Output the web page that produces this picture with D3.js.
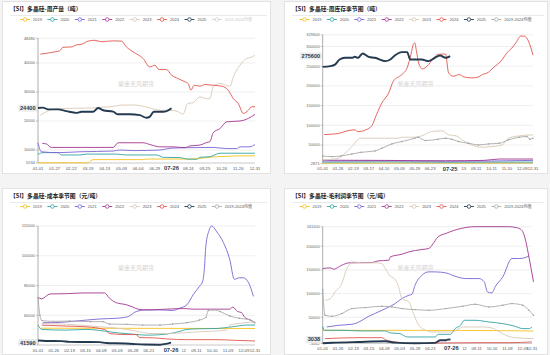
<!DOCTYPE html>
<html><head><meta charset="utf-8">
<script src="https://cdn.jsdelivr.net/npm/d3@7"></script>
<style>body{margin:0;background:#fff;} svg{display:block;font-family:"Liberation Sans",Arial,"Noto Sans CJK SC",sans-serif;}</style>
</head><body><svg id="c" width="550" height="355"></svg>
<script>
// ---------- shared ----------
const seriesNames = ["2019","2020","2021","2022","2023","2024","2025","2019-2024均值"];
const seriesColors = ["#f6c21a","#33a3a3","#7a63d2","#a3378f","#d9c8b5","#e2554d","#243a50","#aaaaaa"];

// ---------- panel 1: weekly production (t) ----------
const prodTicksX = ["01-01","01-27","02-22","03-19","04-13","05-09","06-04","06-29",null,"08-24","09-25","10-26","11-26"];
const prodTicksY = [5534,10000,20000,30000,40000,48480];
const prod2019 = [[0,5600],[3.0,5600],[3.3,6700],[6.3,6700],[6.6,6900],[8.8,6900],[9.7,7100],[10.4,7600],[11.2,7800],[12.2,8000],[13,8000]];
const prod2020 = [[0,8500],[0.3,9100],[1.2,9100],[1.4,8300],[2.5,8300],[2.9,8600],[4.7,8600],[5.3,8300],[7.1,8300],[7.5,7500],[8.5,7400],[8.9,6900],[9.5,6800],[9.7,7500],[10.3,7700],[10.9,8900],[13,8900]];
const prod2021 = [[0,12500],[0.2,9400],[1.2,9100],[2.5,9400],[4.5,9650],[4.9,10000],[5.7,9800],[7.3,10000],[7.9,10600],[8.9,10800],[10.5,10900],[11.3,10500],[11.9,10500],[12.1,11100],[12.7,11100],[13,11900]];
const prod2022 = [[0.26,12300],[0.5,12100],[0.8,10900],[4.5,10900],[4.8,12500],[6.3,12500],[6.7,11900],[7.3,11100],[8.1,11100],[8.8,10800],[9.1,11400],[9.7,11700],[10.1,12600],[10.3,12900],[10.5,16000],[10.9,17400],[11.3,19700],[12.1,20000],[12.6,20900],[13,22300]];
const prod2023 = [[0.14,22000],[0.5,23200],[0.9,24000],[1.3,24300],[3.3,24500],[3.7,24700],[4.3,24900],[5.1,25500],[5.7,25500],[6.1,25300],[6.7,24500],[7.3,23700],[7.9,23700],[8.3,23400],[8.7,22400],[8.96,26000],[9.3,26300],[9.7,28300],[10.1,27700],[10.3,27700],[10.5,32000],[10.9,32900],[11.5,32000],[11.7,35200],[12.1,39200],[12.5,41500],[12.7,41800],[13,42600]];
const prod2024 = [[0.14,43000],[0.6,43400],[1.0,43800],[1.3,44200],[1.5,45400],[2.0,45500],[2.3,46200],[2.6,46400],[3.0,47500],[3.4,47800],[3.8,47300],[4.2,47500],[4.6,47600],[5.0,47500],[5.3,45500],[5.7,43800],[6.3,41500],[6.7,38600],[7.0,39200],[7.26,37700],[7.7,37700],[8.0,35800],[8.4,34600],[8.8,33500],[9.0,32900],[9.16,30600],[9.36,32300],[9.7,32000],[10.0,32550],[10.5,32300],[11.0,32000],[11.4,30600],[11.7,27700],[12.0,26000],[12.3,22600],[12.6,23700],[12.8,24900],[13,24900]];
const prod2025 = [[0,24500],[0.3,24600],[0.6,24000],[1.2,24000],[1.7,23400],[2.3,22800],[2.6,23200],[3.3,23200],[3.6,24500],[3.9,23700],[4.5,23200],[4.8,22300],[5.5,22300],[6.1,22000],[6.5,21100],[6.7,21500],[6.94,23200],[7.5,23200],[7.7,23400],[8.0,24400]];

// ---------- panel 2: weekly inventory (t) ----------
const invTicksX = ["01-01","01-26","02-19","03-17","04-10","05-05","05-29","06-23",null,"08-13","09-11","10-11","11-10","12-09"];
const invTicksY = [2871,50000,100000,150000,200000,250000,300000,329600];
const inv2019 = [[0,2871],[0.5,4200],[6,4500],[10,4300],[13.7,4800]];
const inv2020 = [[0,6500],[4,7200],[8,6300],[13.7,6800]];
const inv2021 = [[0,9500],[4,10000],[8,9000],[11,9500],[13.7,11000]];
const inv2022 = [[0,11500],[4,11000],[8,10000],[10.5,11000],[11.5,14500],[13.7,14500]];
const inv2023 = [[0,12000],[1.0,16250],[1.45,29000],[1.9,46000],[2.45,67250],[4.9,67250],[5.15,69800],[6.0,69800],[6.45,73200],[7.1,84250],[7.8,86000],[8.2,75750],[8.7,73200],[9.1,63000],[9.7,50250],[10.4,44300],[11.0,46000],[11.7,50250],[12.1,67250],[12.8,73200],[13.7,75750]];
const inv2024 = [[0.1,76600],[0.6,77500],[1.1,80000],[1.6,86000],[2.1,88500],[2.3,84000],[2.8,88500],[3.2,98700],[3.5,126700],[3.85,156500],[4.3,182000],[4.6,211700],[5.15,228700],[5.5,245700],[5.75,280000],[5.9,305000],[6.0,309000],[6.1,290000],[6.25,258000],[6.5,243000],[6.8,250000],[7.2,268700],[7.5,279700],[8.0,281000],[8.2,233000],[8.5,224500],[8.9,228700],[9.2,222800],[9.7,220250],[10.1,222000],[10.4,228700],[10.8,234700],[11.1,245750],[11.7,267000],[12.0,284000],[12.3,295000],[12.6,310000],[12.9,326500],[13.15,326000],[13.4,313800],[13.7,278000]];
const inv2025 = [[0,248300],[0.5,250000],[0.8,254000],[1.1,267000],[1.45,271250],[1.9,271250],[2.1,273800],[2.3,271250],[2.6,282300],[3.0,273800],[3.4,271250],[4.1,262750],[4.4,267000],[4.7,277200],[5.15,285700],[5.5,285700],[5.7,267000],[6.45,267000],[6.9,262750],[7.3,271250],[7.65,277200],[8.0,271250],[8.3,275600]];
const invAvg = [[0,22200],[0.6,20500],[1.2,22200],[1.9,27300],[2.5,31500],[3.4,35000],[3.85,41750],[4.5,52800],[5.15,58750],[6.0,67250],[6.2,69800],[6.7,61300],[7.5,64700],[8.0,67250],[8.4,64700],[8.85,58750],[9.5,54500],[10.15,50250],[10.8,52800],[11.5,54500],[12.1,63000],[12.8,69800],[13.3,71500],[13.5,64700],[13.7,67250]];

// ---------- panel 3: cost (yuan/t) ----------
const costTicksX = ["01-01","01-26","02-19","03-15","04-09","05-03","05-28","06-21",null,"08-12","09-11","10-10","11-09","12-09"];
const costTicksY = [40000,60000,80000,100000,120000];
const cost2019 = [[0.2,51300],[6,51200],[13.7,51100]];
const cost2020 = [[0,53500],[0.23,50500],[1.8,50000],[3.1,50500],[4.1,49500],[5.0,48200],[6.0,47300],[6.9,46600],[8.1,47300],[9.0,49300],[9.4,50500],[10.2,50900],[11.3,51100],[12.3,52300],[13.2,53400],[13.7,53400]];
const cost2021 = [[0.3,55000],[1.0,55000],[2.0,55700],[3.1,56800],[3.9,57500],[5.0,58000],[5.7,59100],[6.2,62500],[6.9,63600],[7.7,63600],[8.5,63200],[8.96,64800],[9.4,67000],[9.8,73900],[10.2,79500],[10.4,83000],[10.5,90900],[10.6,106800],[10.8,117000],[10.96,120000],[11.3,115900],[11.7,109000],[12.1,97700],[12.4,84100],[12.7,85200],[12.95,85200],[13.3,81800],[13.6,72700]];
const cost2022 = [[0,72000],[0.23,71100],[0.76,74300],[1.8,74500],[2.9,75000],[4.2,75000],[4.5,71600],[4.9,68600],[5.6,67000],[6.0,65500],[6.3,64100],[6.9,63600],[8.1,64100],[9.2,64500],[9.8,64100],[12.1,64100],[12.3,65500],[12.6,62500],[12.85,61800],[13.05,58600],[13.4,56800],[13.7,55000]];
const cost2023 = [[0.23,54500],[1.8,53900],[3.9,52300],[4.5,51800],[5.6,50500],[6.4,48900],[7.1,47700],[8.1,47700],[9.2,48200],[10.2,48900],[11.06,49300],[11.9,50000],[12.1,53400],[12.7,54500],[13.7,55700]];
const cost2024 = [[0.23,53400],[1.8,52700],[2.9,52300],[3.9,51100],[4.3,50000],[4.5,47700],[5.6,47000],[6.2,47000],[6.4,45000],[7.3,44800],[8.1,44100],[9.4,43600],[11.3,43600],[12.3,43200],[13.7,42700]];
const cost2025 = [[0,43000],[0.5,42700],[1.5,42600],[2.0,42100],[3.0,42000],[3.9,41900],[4.3,41300],[5.5,41000],[6.0,40700],[6.8,40300],[7.7,40200],[8.1,40800],[8.4,41590]];
const costAvg = [[0,72000],[0.12,60000],[0.25,56400],[1.0,55900],[2.0,56100],[3.3,55700],[4.1,55700],[4.5,54100],[5.6,53900],[6.6,53400],[7.7,53400],[8.5,54100],[9.4,55000],[10.2,56800],[10.6,58600],[10.75,63200],[11.06,63600],[11.5,62500],[12.1,59500],[12.7,58000],[13.4,56800],[13.7,55000]];

// ---------- panel 4: gross profit (yuan/t) ----------
const profTicksX = ["01-01","01-26","02-19","03-15","04-09","05-03","05-28","06-21",null,"08-12","09-11","10-10","11-09","12-09"];
const profTicksY = [-5042,50000,100000,150000,200000,241100];
const prof2019 = [[0,22600],[6,22400],[10,22200],[13.7,21000]];
const prof2020 = [[0,31000],[0.1,22600],[1.24,22600],[2.5,21200],[4.07,21200],[4.4,17000],[5.0,15600],[5.5,8500],[7.3,8500],[7.5,14100],[8.3,14100],[8.6,26100],[8.96,33100],[9.2,43700],[9.9,43700],[10.8,40200],[11.7,36700],[12.5,31000],[13.0,26100],[13.4,26100],[13.6,29600]];
const prof2021 = [[0.26,29600],[1.0,33100],[1.9,35300],[2.1,36700],[3.0,52200],[3.85,64800],[4.7,78900],[5.15,89500],[5.6,96500],[5.8,98600],[6.0,117600],[6.45,138800],[6.9,145800],[7.3,145800],[8.0,143700],[8.6,136600],[9.3,131700],[10.15,131700],[10.5,124700],[10.7,103600],[11.0,101400],[11.2,114100],[11.7,135200],[12.3,174000],[12.8,174000],[13.4,178900]];
const prof2022 = [[0,152800],[0.5,154200],[0.7,151400],[1.24,159900],[1.7,164800],[3.2,165500],[3.6,169000],[4.3,170400],[4.4,177500],[5.15,183100],[5.6,188000],[6.45,193000],[6.9,195100],[7.1,202100],[7.5,219700],[8.0,226800],[8.5,233000],[9.05,237800],[9.9,241100],[12.1,241100],[12.6,239000],[12.85,236000],[13.05,227000],[13.2,210000],[13.4,177500],[13.7,124700]];
const prof2023 = [[0.15,86000],[0.5,89500],[0.8,103600],[1.24,121200],[1.57,152800],[1.8,163400],[2.0,166900],[2.5,164800],[3.6,164800],[3.85,163400],[4.07,152800],[4.4,136600],[4.6,133100],[4.9,117600],[5.15,89500],[5.6,82400],[5.9,57800],[6.24,33100],[6.7,22600],[7.1,19100],[8.4,19100],[8.85,26100],[9.1,29600],[10.4,29600],[11.0,27500],[11.5,19100],[11.9,12000],[12.5,7100],[13.7,5000]];
const prof2024 = [[0.15,5000],[1.24,6400],[2.3,7100],[3.85,7100],[4.07,2900],[4.7,-2000],[5.6,-4800],[6.7,-4800],[7.3,-4200],[9.9,-3500],[12.1,-3500],[13.6,-2000]];
const prof2025 = [[0,-4800],[0.6,-3800],[2.3,-2000],[4.07,-600],[4.7,-3500],[6.0,-4800],[7.3,-4000],[7.65,1500],[8.0,1500],[8.1,3000],[8.3,3038]];
const profAvg = [[0,108000],[0.15,54300],[0.6,52200],[1.24,57800],[1.9,68400],[2.76,70500],[3.85,73300],[4.5,71900],[5.15,68400],[6.0,66200],[6.9,64800],[8.0,68400],[9.1,73300],[9.9,77500],[10.8,71900],[11.7,75400],[12.3,78900],[13.0,75400],[13.4,64800],[13.7,54300]];

// ---------- layout ----------
const panels = [
  {title:"【SI】多晶硅-周产量（吨）", card:[2,1,268,172], plot:[38,255,38.3,163], xMax:13, endLabel:"12-31",
   ticksX:prodTicksX, ticksY:prodTicksY, cur:{x:8, label:"07-26", value:24400, text:"24400"},
   data:[prod2019,prod2020,prod2021,prod2022,prod2023,prod2024,prod2025,null], disabled:[7]},
  {title:"【SI】多晶硅-周库存季节图（吨）", card:[284,1,263,172], plot:[322.7,533,34.8,163.6], xMax:13.7, endLabel:"12-31",
   ticksX:invTicksX, ticksY:invTicksY, cur:{x:8.3, label:"07-25", value:275600, text:"275600"},
   data:[inv2019,inv2020,inv2021,inv2022,inv2023,inv2024,inv2025,invAvg], disabled:[]},
  {title:"【SI】多晶硅-成本季节图（元/吨）", card:[2,188,268,166], plot:[38,255,226,345], xMax:13.7, endLabel:"12-31",
   ticksX:costTicksX, ticksY:costTicksY, cur:{x:8.4, label:"07-26", value:41590, text:"41590"},
   data:[cost2019,cost2020,cost2021,cost2022,cost2023,cost2024,cost2025,costAvg], disabled:[]},
  {title:"【SI】多晶硅-毛利润季节图（元/吨）", card:[284,188,263,166], plot:[322.7,532,226.7,343.4], xMax:13.6, endLabel:"12-31",
   ticksX:profTicksX, ticksY:profTicksY, cur:{x:8.36, label:"07-26", value:3038, text:"3038"},
   data:[prof2019,prof2020,prof2021,prof2022,prof2023,prof2024,prof2025,profAvg], disabled:[]}
];

const svg = d3.select("#c");
svg.append("rect").attr("width",550).attr("height",355).attr("fill","#f4f4f4");

panels.forEach(p=>{
  const g = svg.append("g");
  const [cx,cy,cw,ch] = p.card;
  g.append("rect").attr("x",cx+0.5).attr("y",cy+0.5).attr("width",cw).attr("height",ch)
    .attr("fill","#fff").attr("stroke","#e2e2e2");
  g.append("text").attr("x",cx+8).attr("y",cy+10.3).text(p.title)
    .attr("font-family","'Noto Sans CJK SC',sans-serif").attr("font-size",5.8).attr("font-weight","bold").attr("fill","#222");
  g.append("line").attr("x1",cx+8).attr("x2",cx+cw-3).attr("y1",cy+14.5).attr("y2",cy+14.5)
    .attr("stroke","#e4e4e4").attr("stroke-width",0.8);

  // legend
  const leg = g.append("g");
  let lx = 0;
  const items = [];
  seriesNames.forEach((n,i)=>{
    const it = leg.append("g");
    const dis = p.disabled.includes(i);
    const col = dis ? "#d0d0d0" : seriesColors[i];
    it.append("line").attr("x1",0).attr("x2",10).attr("y1",0).attr("y2",0).attr("stroke",col).attr("stroke-width",0.9);
    it.append("circle").attr("cx",5).attr("cy",0).attr("r",1.8).attr("fill","#fff").attr("stroke",col).attr("stroke-width",0.8);
    const t = it.append("text").attr("x",13).attr("y",1.4).text(n).attr("font-size",4)
      .attr("font-family","'Liberation Sans','Noto Sans CJK SC',sans-serif").attr("fill",dis?"#c8c8c8":"#555");
    it.attr("transform",`translate(${lx},0)`);
    lx += 13 + t.node().getComputedTextLength() + 5.5;
  });
  const legW = lx - 5.5;
  leg.attr("transform",`translate(${cx+cw/2-legW/2},${cy+18.5})`);

  const x = d3.scaleLinear().domain([0,p.xMax]).range([p.plot[0],p.plot[1]]);
  const y = d3.scaleLinear().domain([p.ticksY[0],p.ticksY[p.ticksY.length-1]]).range([p.plot[3],p.plot[2]]);

  // watermark
  g.append("text").attr("x",cx+cw/2).attr("y",cy+ch/2-1).attr("text-anchor","middle")
    .attr("font-family","'Noto Sans CJK SC',sans-serif").attr("font-size",6).attr("fill","#d4d4d4").text("紫金天风期货");

  // grid + y ticks
  p.ticksY.forEach((v,i)=>{
    if(i>0) g.append("line").attr("x1",x(0)).attr("x2",x(p.xMax)).attr("y1",y(v)).attr("y2",y(v)).attr("stroke","#ebebeb").attr("stroke-width",0.8);
    g.append("line").attr("x1",x(0)-2).attr("x2",x(0)).attr("y1",y(v)).attr("y2",y(v)).attr("stroke","#999").attr("stroke-width",0.6);
    g.append("text").attr("x",x(0)-3).attr("y",y(v)+1.4).attr("text-anchor","end").attr("font-size",4).attr("fill","#666").text(v);
  });
  // axes
  g.append("line").attr("x1",x(0)).attr("x2",x(0)).attr("y1",y.range()[0]).attr("y2",y.range()[1]).attr("stroke","#999").attr("stroke-width",0.8);
  g.append("line").attr("x1",x(0)).attr("x2",x(p.xMax)).attr("y1",y.range()[0]).attr("y2",y.range()[0]).attr("stroke","#bbb").attr("stroke-width",0.8);

  // x ticks
  const xl = p.ticksX.map((t,i)=>({t,i})).filter(d=>d.t);
  xl.push({t:p.endLabel,i:p.xMax});
  const by = y.range()[0]+6.6;
  xl.forEach(d=>{
    g.append("text").attr("x",x(d.i)).attr("y",by).attr("text-anchor","middle").attr("font-size",4.2).attr("fill","#555").text(d.t);
  });

  // series
  const line = d3.line().x(d=>x(d[0])).y(d=>y(d[1])).curve(d3.curveMonotoneX);
  const clipId = "clip"+p.plot[0]+"_"+p.plot[2];
  p.data.forEach((arr,i)=>{
    if(!arr || p.disabled.includes(i)) return;
    g.append("path").attr("d",line(arr)).attr("fill","none").attr("stroke",seriesColors[i])
      .attr("stroke-width", i===6 ? 1.9 : 0.9).attr("stroke-linejoin","round");
    if(i===7){
      g.selectAll(null).data(arr).enter().append("circle").attr("cx",d=>x(d[0])).attr("cy",d=>y(d[1]))
        .attr("r",0.7).attr("fill","#999");
    }
  });

  // current value label on y axis
  const ct = g.append("text").attr("x",x(0)-2.5).attr("y",y(p.cur.value)+1.9).attr("text-anchor","end")
    .attr("font-size",5.6).attr("font-weight","bold").attr("fill","#2b3b4c").text(p.cur.text);
  const cb = ct.node().getBBox();
  g.insert("rect",()=>ct.node()).attr("x",cb.x-1.5).attr("y",cb.y-0.5).attr("width",cb.width+3).attr("height",cb.height+1).attr("fill","#ececec");

  // current date label on x axis
  const dt = g.append("text").attr("x",x(p.cur.x)).attr("y",by+0.4).attr("text-anchor","middle")
    .attr("font-size",5.8).attr("font-weight","bold").attr("fill","#2b3b4c").text(p.cur.label);
  const db = dt.node().getBBox();
  g.insert("rect",()=>dt.node()).attr("x",db.x-3).attr("y",db.y).attr("width",db.width+6).attr("height",db.height).attr("fill","#fff");
});
</script></body></html>
